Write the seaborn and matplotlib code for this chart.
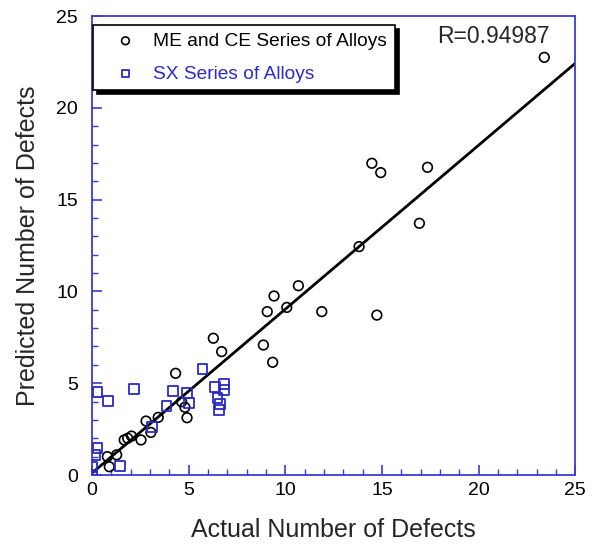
import matplotlib
matplotlib.use("Agg")
import matplotlib.pyplot as plt
import seaborn as sns
import numpy as np
import pandas as pd
from matplotlib.ticker import MultipleLocator

sns.set_style("white")
plt.rcParams['font.family'] = ['Liberation Sans', 'DejaVu Sans']

# ME and CE series (circles)
me_x = [0.8, 0.9, 1.28, 1.67, 1.85, 2.05, 2.54, 2.80, 3.05, 3.43, 4.33, 4.64, 4.81, 4.92,
        6.28, 6.71, 8.87, 9.07, 9.35, 9.42, 10.08, 10.68, 11.89, 13.82, 14.48, 14.74,
        14.94, 16.94, 17.36, 23.4]
me_y = [1.0, 0.45, 1.1, 1.91, 2.0, 2.12, 1.91, 2.94, 2.32, 3.14, 5.54, 3.99, 3.69, 3.12,
        7.45, 6.72, 7.08, 8.9, 6.14, 9.75, 9.13, 10.31, 8.9, 12.44, 16.98, 8.71,
        16.47, 13.71, 16.76, 22.75]

# SX series (squares)
sx_x = [0.0, 0.02, 0.16, 0.29, 0.29, 0.85, 1.45, 2.19, 3.09, 3.86, 4.19, 4.90, 5.02,
        5.72, 6.37, 6.50, 6.57, 6.63, 6.85, 6.85]
sx_y = [0.0, 0.45, 1.1, 1.45, 4.54, 4.03, 0.5, 4.67, 2.63, 3.78, 4.59, 4.45, 3.94,
        5.77, 4.81, 4.21, 3.54, 3.87, 4.96, 4.63]

# regression line
fit_intercept = 0.1
fit_slope = 0.893
fit_range = [0, 25]
r_text = "R=0.94987"

x_ticks = [0, 5, 10, 15, 20, 25]
y_ticks = [0, 5, 10, 15, 20, 25]

blue = "#2a2ac8"
spine_blue = "#3b3bd0"

fig = plt.figure(figsize=(5.93, 5.47), dpi=100)
ax = fig.add_axes([0.155, 0.1316, 0.815, 0.8391])

fx = np.array(fit_range, dtype=float)
sns.lineplot(x=fx, y=fit_intercept + fit_slope * fx, ax=ax, color="black", linewidth=2.0,
             zorder=2)

sns.scatterplot(x=me_x, y=me_y, ax=ax, marker="o", s=48, facecolor="none",
                edgecolor="black", linewidth=1.2, label="ME and CE Series of Alloys", zorder=3)
sns.scatterplot(x=sx_x, y=sx_y, ax=ax, marker="s", s=50, facecolor="none",
                edgecolor=blue, linewidth=1.3, label="SX Series of Alloys", zorder=3)

ax.set_xlim(0, 25)
ax.set_ylim(0, 25)
ax.set_xticks(x_ticks)
ax.set_yticks(y_ticks)
ax.xaxis.set_minor_locator(MultipleLocator(1))
ax.yaxis.set_minor_locator(MultipleLocator(1))
ax.tick_params(axis="both", which="major", direction="in", length=7, width=1.2,
               color=spine_blue, labelsize=14, labelcolor="black",
               bottom=True, left=True, top=False, right=False)
ax.tick_params(axis="both", which="minor", direction="in", length=4, width=1.0,
               color=spine_blue, bottom=True, left=True, top=False, right=False)
ax.tick_params(axis="x", pad=5)
ax.tick_params(axis="y", pad=10)
for s in ax.spines.values():
    s.set_color(spine_blue)
    s.set_linewidth(1.3)
    s.set_visible(True)

ax.set_xlabel("Actual Number of Defects", fontsize=18, labelpad=14)
ax.set_ylabel("Predicted Number of Defects", fontsize=18, labelpad=12)

ax.text(0.947, 0.955, r_text, transform=ax.transAxes, fontsize=16.5, ha="right", va="center")

leg = ax.legend(loc="upper left", bbox_to_anchor=(0.002, 0.981), fontsize=13.8,
                frameon=True, fancybox=False, edgecolor="black", framealpha=1,
                shadow={"color": "black", "alpha": 1, "ox": 3, "oy": -3},
                borderpad=0.4, handlelength=2.6, handletextpad=0.15, labelspacing=0.8,
                borderaxespad=0.0, markerscale=0.8)
leg.get_frame().set_linewidth(1.2)
for t, c in zip(leg.get_texts(), ["black", blue]):
    t.set_color(c)

fig.savefig("out.png", dpi=100)
